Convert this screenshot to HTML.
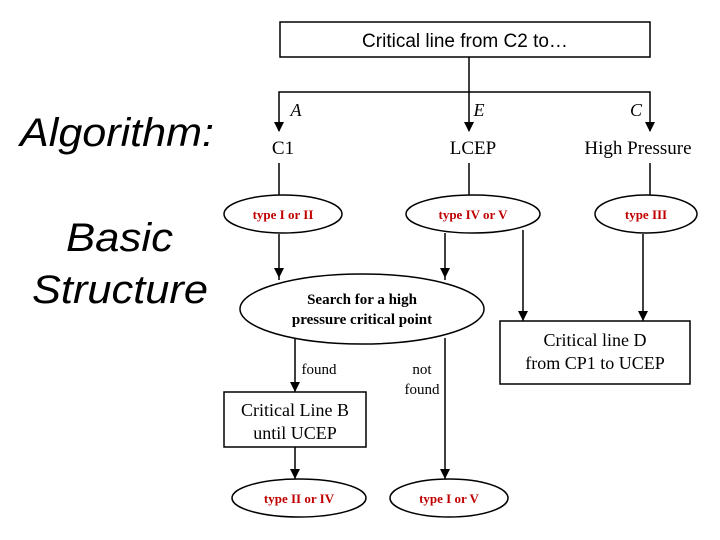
<!DOCTYPE html>
<html><head><style>body{margin:0;background:#fff}</style></head><body>
<svg width="720" height="540" xmlns="http://www.w3.org/2000/svg" style="display:block">
<g font-family="Liberation Sans, sans-serif" font-style="italic" font-size="40" fill="#000">
<text x="20" y="146" textLength="194" lengthAdjust="spacingAndGlyphs">Algorithm:</text>
<text x="66" y="251" textLength="107" lengthAdjust="spacingAndGlyphs">Basic</text>
<text x="32" y="303" textLength="176" lengthAdjust="spacingAndGlyphs">Structure</text>
</g>
<rect x="280" y="22" width="370" height="35" fill="#fff" stroke="#000" stroke-width="1.5"/>
<text x="465" y="47" font-family="Liberation Sans, sans-serif" font-size="19" text-anchor="middle">Critical line from C2 to…</text>
<g stroke="#000" stroke-width="1.5" fill="none">
<line x1="469" y1="57" x2="469" y2="92"/>
<polyline points="279,131 279,92 650,92 650,131"/>
<line x1="469" y1="92" x2="469" y2="131"/>
<line x1="279" y1="163" x2="279" y2="196"/>
<line x1="469" y1="163" x2="469" y2="196"/>
<line x1="650" y1="163" x2="650" y2="196"/>
<line x1="279" y1="234" x2="279" y2="280"/>
<line x1="445" y1="233" x2="445" y2="280"/>
<line x1="523" y1="230" x2="523" y2="321"/>
<line x1="643" y1="234" x2="643" y2="321"/>
<line x1="295" y1="338" x2="295" y2="392"/>
<line x1="445" y1="338" x2="445" y2="479"/>
<line x1="295" y1="447" x2="295" y2="479"/>
</g>
<g fill="#000">
<path d="M274,122 L284,122 L279,132z"/><path d="M464,122 L474,122 L469,132z"/><path d="M645,122 L655,122 L650,132z"/>
<path d="M274,268 L284,268 L279,278z"/><path d="M440,268 L450,268 L445,278z"/>
<path d="M518,311 L528,311 L523,321z"/><path d="M638,311 L648,311 L643,321z"/>
<path d="M290,382 L300,382 L295,392z"/><path d="M440,469 L450,469 L445,479z"/><path d="M290,469 L300,469 L295,479z"/>
</g>
<g font-family="Liberation Serif, serif" font-size="19" fill="#000">
<text x="296" y="116" font-style="italic" font-size="18" text-anchor="middle">A</text>
<text x="479" y="116" font-style="italic" font-size="18" text-anchor="middle">E</text>
<text x="636" y="116" font-style="italic" font-size="18" text-anchor="middle">C</text>
<text x="283" y="154" text-anchor="middle">C1</text>
<text x="473" y="154" text-anchor="middle">LCEP</text>
<text x="638" y="154" text-anchor="middle">High Pressure</text>
</g>
<g stroke="#000" stroke-width="1.5" fill="#fff">
<ellipse cx="283" cy="214" rx="59" ry="19"/>
<ellipse cx="473" cy="214" rx="67" ry="19"/>
<ellipse cx="646" cy="214" rx="51" ry="19"/>
<ellipse cx="362" cy="309" rx="122" ry="35"/>
<ellipse cx="299" cy="498" rx="67" ry="19"/>
<ellipse cx="449" cy="498" rx="59" ry="19"/>
<rect x="500" y="321" width="190" height="63"/>
<rect x="224" y="392" width="142" height="55"/>
</g>
<g font-family="Liberation Serif, serif" font-weight="bold" font-size="13" fill="#c00000" text-anchor="middle">
<text x="283" y="219">type I or II</text>
<text x="473" y="219">type IV or V</text>
<text x="646" y="219">type III</text>
<text x="299" y="503">type II or IV</text>
<text x="449" y="503">type I or V</text>
</g>
<g font-family="Liberation Serif, serif" font-weight="bold" font-size="15" text-anchor="middle">
<text x="362" y="304">Search for a high</text>
<text x="362" y="324">pressure critical point</text>
</g>
<g font-family="Liberation Serif, serif" font-size="18" text-anchor="middle">
<text x="595" y="346">Critical line D</text>
<text x="595" y="369">from CP1 to UCEP</text>
<text x="295" y="416">Critical Line B</text>
<text x="295" y="439">until UCEP</text>
</g>
<g font-family="Liberation Serif, serif" font-size="15" text-anchor="middle">
<text x="319" y="374">found</text>
<text x="422" y="374">not</text>
<text x="422" y="394">found</text>
</g>
</svg>
</body></html>
